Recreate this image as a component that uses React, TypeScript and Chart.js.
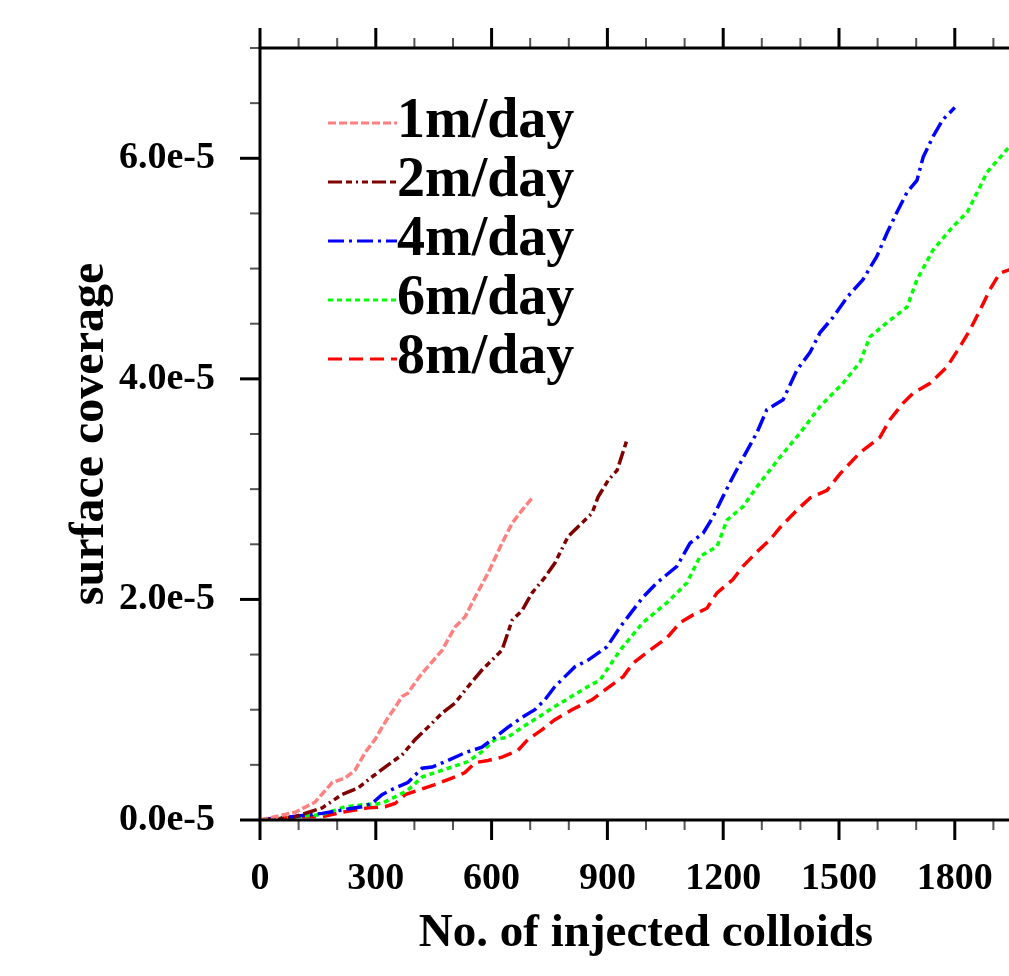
import React, { useEffect, useRef } from "react";
import { Chart, registerables } from "chart.js";

Chart.register(...registerables);

// ---- data (y values in units of 1e-5) ----
const seriesNames = ["1m/day", "2m/day", "4m/day", "6m/day", "8m/day"];
const seriesColors = ["#ff8080", "#800000", "#0000ff", "#00ff00", "#ff0000"];
const seriesDashes = [
  [8, 3],
  [14, 4, 6, 4, 2, 4, 6, 4],
  [16, 5, 3, 5],
  [5, 4],
  [14, 7],
];

const x1 = [0, 39, 91, 142, 187, 220, 246, 272, 298, 316, 332, 350, 368, 383, 407, 420, 472, 505, 531, 557, 591, 627, 653, 679, 705];
const y1 = [0, 0.03, 0.07, 0.16, 0.34, 0.38, 0.45, 0.61, 0.73, 0.84, 0.93, 1.02, 1.12, 1.15, 1.27, 1.33, 1.54, 1.75, 1.84, 2.02, 2.24, 2.51, 2.69, 2.81, 2.92];

const x2 = [0, 50, 91, 161, 212, 254, 290, 332, 368, 402, 435, 472, 505, 539, 575, 627, 653, 679, 705, 738, 764, 798, 824, 860, 876, 902, 925, 951];
const y2 = [0, 0.01, 0.03, 0.11, 0.23, 0.29, 0.39, 0.5, 0.59, 0.73, 0.84, 0.97, 1.06, 1.21, 1.36, 1.54, 1.81, 1.9, 2.06, 2.2, 2.33, 2.57, 2.66, 2.78, 2.93, 3.08, 3.17, 3.45];

const x4 = [0, 83, 161, 212, 264, 290, 316, 350, 383, 420, 446, 487, 531, 575, 609, 642, 679, 712, 738, 764, 790, 816, 850, 899, 933, 992, 1028, 1080, 1114, 1148, 1174, 1199, 1225, 1251, 1287, 1313, 1355, 1391, 1425, 1451, 1485, 1521, 1562, 1598, 1624, 1650, 1676, 1702, 1718, 1744, 1769, 1800];
const y4 = [0, 0.03, 0.06, 0.09, 0.12, 0.15, 0.23, 0.29, 0.34, 0.47, 0.48, 0.54, 0.61, 0.66, 0.75, 0.84, 0.93, 1.0, 1.09, 1.21, 1.3, 1.39, 1.45, 1.57, 1.75, 2.02, 2.15, 2.3, 2.51, 2.6, 2.75, 2.93, 3.11, 3.28, 3.51, 3.72, 3.81, 4.08, 4.24, 4.42, 4.56, 4.74, 4.9, 5.11, 5.32, 5.51, 5.69, 5.8, 6.01, 6.2, 6.35, 6.46];

const x6 = [0, 98, 161, 220, 272, 316, 350, 383, 420, 453, 497, 539, 575, 609, 642, 679, 720, 764, 850, 881, 933, 992, 1054, 1106, 1140, 1184, 1210, 1251, 1287, 1347, 1399, 1451, 1510, 1554, 1580, 1624, 1676, 1702, 1744, 1795, 1832, 1865, 1883, 1935, 1950];
const y6 = [0, 0.03, 0.05, 0.12, 0.14, 0.15, 0.21, 0.27, 0.39, 0.43, 0.48, 0.53, 0.62, 0.73, 0.75, 0.84, 0.93, 1.03, 1.21, 1.27, 1.54, 1.79, 1.97, 2.15, 2.39, 2.48, 2.72, 2.84, 3.02, 3.29, 3.51, 3.75, 3.96, 4.15, 4.38, 4.51, 4.65, 4.9, 5.17, 5.38, 5.51, 5.74, 5.87, 6.08, 6.13];

const x8 = [0, 109, 161, 212, 246, 280, 324, 350, 376, 409, 453, 497, 531, 557, 591, 627, 668, 694, 731, 764, 808, 860, 894, 941, 966, 1010, 1054, 1088, 1122, 1158, 1184, 1225, 1251, 1287, 1321, 1347, 1391, 1425, 1469, 1503, 1554, 1606, 1632, 1666, 1692, 1736, 1780, 1813, 1839, 1865, 1891, 1917, 1950];
const y8 = [0, 0.03, 0.03, 0.07, 0.09, 0.11, 0.12, 0.15, 0.23, 0.27, 0.32, 0.38, 0.43, 0.52, 0.54, 0.57, 0.63, 0.73, 0.82, 0.91, 1.0, 1.09, 1.18, 1.3, 1.42, 1.54, 1.65, 1.79, 1.86, 1.92, 2.06, 2.18, 2.3, 2.43, 2.54, 2.65, 2.81, 2.92, 2.99, 3.14, 3.33, 3.47, 3.63, 3.78, 3.87, 3.96, 4.11, 4.29, 4.44, 4.62, 4.81, 4.96, 5.0];

const seriesX = [x1, x2, x4, x6, x8];
const seriesY = [y1, y2, y4, y6, y8];
const Y_UNIT = 1e-5;

const xTicks = [0, 300, 600, 900, 1200, 1500, 1800];
const xTickLabels = ["0", "300", "600", "900", "1200", "1500", "1800"];
const yTicks = [0, 2e-5, 4e-5, 6e-5];
const yTickLabels = ["0.0e-5", "2.0e-5", "4.0e-5", "6.0e-5"];
const X_MIN = 0;
const X_MAX = 2000;
const Y_MIN = 0;
const Y_MAX = 7e-5;
const X_MINOR = 100;
const Y_MINOR = 0.5e-5;

const xTitle = "No. of injected colloids";
const yTitle = "surface coverage";

const FONT = '"Liberation Serif", "Times New Roman", serif';

const axesLegendPlugin = {
  id: "axesLegend",
  afterDatasetsDraw(chart: any) {
    const { ctx, chartArea: a, scales } = chart;
    const xs = scales.x;
    const ys = scales.y;
    ctx.save();
    ctx.lineCap = "butt";
    const nx = Math.round((X_MAX - X_MIN) / X_MINOR);
    for (let i = 0; i <= nx; i++) {
      const v = X_MIN + i * X_MINOR;
      const px = xs.getPixelForValue(v);
      const major = xTicks.indexOf(v) >= 0;
      const len = major ? 20 : 10;
      ctx.lineWidth = major ? 3 : 2;
      ctx.strokeStyle = major ? "#000" : "#555";
      ctx.beginPath();
      ctx.moveTo(px, a.bottom);
      ctx.lineTo(px, a.bottom + len);
      ctx.moveTo(px, a.top);
      ctx.lineTo(px, a.top - len);
      ctx.stroke();
    }
    const ny = Math.round((Y_MAX - Y_MIN) / Y_MINOR);
    for (let i = 0; i <= ny; i++) {
      const v = Y_MIN + i * Y_MINOR;
      const py = ys.getPixelForValue(v);
      const major = i % 4 === 0;
      const len = major ? 20 : 10;
      ctx.lineWidth = major ? 3 : 2;
      ctx.strokeStyle = major ? "#000" : "#555";
      ctx.beginPath();
      ctx.moveTo(a.left, py);
      ctx.lineTo(a.left - len, py);
      ctx.stroke();
    }
    ctx.lineWidth = 3;
    ctx.strokeStyle = "#000";
    ctx.beginPath();
    ctx.moveTo(a.left, a.top - 1.5);
    ctx.lineTo(a.left, a.bottom + 1.5);
    ctx.moveTo(a.left - 1.5, a.bottom);
    ctx.lineTo(a.right + 1.5, a.bottom);
    ctx.moveTo(a.left - 1.5, a.top);
    ctx.lineTo(a.right + 1.5, a.top);
    ctx.moveTo(a.right, a.top);
    ctx.lineTo(a.right, a.bottom);
    ctx.stroke();

    // legend
    const lx0 = a.left + 68;
    const lx1 = a.left + 137;
    const ly0 = a.top + 75;
    const dy = 59;
    ctx.font = `bold 56px ${FONT}`;
    ctx.textAlign = "left";
    ctx.textBaseline = "alphabetic";
    chart.data.datasets.forEach((ds: any, i: number) => {
      const y = ly0 + i * dy;
      ctx.save();
      ctx.strokeStyle = ds.borderColor;
      ctx.lineWidth = 3;
      ctx.setLineDash(ds.borderDash || []);
      ctx.beginPath();
      ctx.moveTo(lx0, y);
      ctx.lineTo(lx1, y);
      ctx.stroke();
      ctx.restore();
      ctx.fillStyle = "#000";
      ctx.fillText(ds.label, lx1, y + 14);
    });
    ctx.restore();
  },
};

export default function App() {
  const ref = useRef<HTMLCanvasElement | null>(null);
  useEffect(() => {
    if (!ref.current) return;
    const datasets = seriesNames.map((name, i) => ({
      label: name,
      data: seriesX[i].map((xv, j) => ({ x: xv, y: seriesY[i][j] * Y_UNIT })),
      borderColor: seriesColors[i],
      backgroundColor: seriesColors[i],
      borderDash: seriesDashes[i],
      borderWidth: 3.5,
      pointRadius: 0,
      tension: 0,
      fill: false,
    }));
    const chart = new Chart(ref.current, {
      type: "line",
      data: { datasets },
      plugins: [axesLegendPlugin],
      options: {
        animation: false,
        responsive: false,
        devicePixelRatio: 1,
        layout: { padding: { top: 48, right: 8, left: 0, bottom: 0 } },
        plugins: { legend: { display: false }, tooltip: { enabled: false } },
        scales: {
          x: {
            type: "linear",
            min: X_MIN,
            max: X_MAX,
            afterBuildTicks: (s: any) => {
              s.ticks = xTicks.map((v) => ({ value: v }));
            },
            afterFit: (s: any) => {
              s.height = 156;
              s.paddingLeft = 0;
              s.paddingRight = 0;
            },
            grid: { display: false, drawTicks: false },
            border: { display: false },
            ticks: {
              autoSkip: false,
              maxRotation: 0,
              padding: 36,
              color: "#000",
              font: { family: FONT, size: 38, weight: "bold" },
              callback: (_v: any, idx: number) => xTickLabels[idx],
            },
            title: {
              display: true,
              text: xTitle,
              color: "#000",
              font: { family: FONT, size: 47, weight: "bold" },
              padding: { top: 0, bottom: 14 },
            },
          },
          y: {
            type: "linear",
            min: Y_MIN,
            max: Y_MAX,
            afterBuildTicks: (s: any) => {
              s.ticks = yTicks.map((v) => ({ value: v }));
            },
            afterFit: (s: any) => {
              s.width = 260;
              s.paddingTop = 0;
              s.paddingBottom = 0;
            },
            grid: { display: false, drawTicks: false },
            border: { display: false },
            ticks: {
              autoSkip: false,
              padding: 45,
              color: "#000",
              font: { family: FONT, size: 38, weight: "bold" },
              callback: (_v: any, idx: number) => yTickLabels[idx],
            },
            title: {
              display: true,
              text: yTitle,
              color: "#000",
              font: { family: FONT, size: 48, weight: "bold" },
              padding: { top: 62, bottom: 0 },
            },
          },
        },
      } as any,
    });
    return () => chart.destroy();
  }, []);
  return (
    <div
      style={{
        position: "fixed",
        left: 0,
        top: 0,
        width: 1009,
        height: 976,
        overflow: "hidden",
        background: "#fff",
      }}
    >
      <canvas ref={ref} width={1040} height={976} style={{ width: 1040, height: 976, display: "block" }} />
    </div>
  );
}
